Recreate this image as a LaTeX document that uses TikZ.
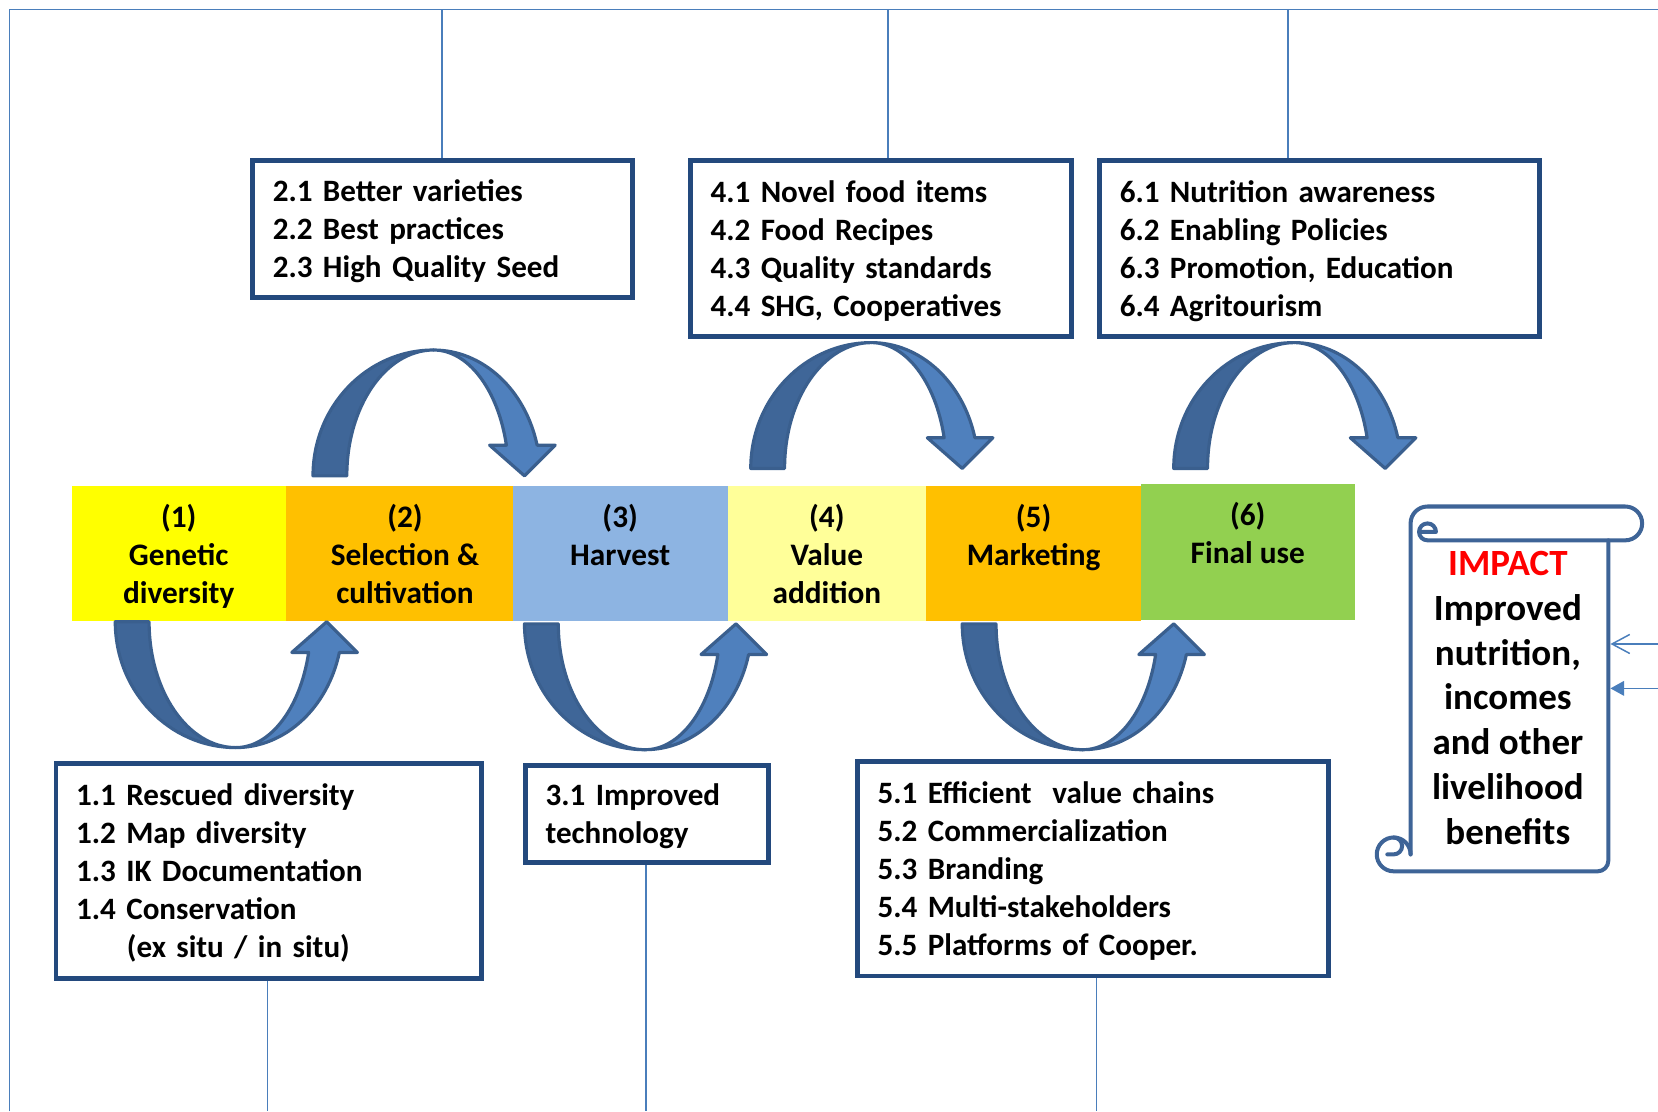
\documentclass[tikz,border=0pt]{standalone}
\usepackage{fontspec}
\setmainfont{Carlito}
\usetikzlibrary{arrows.meta}

\definecolor{linkblue}{HTML}{4A7EBB}
\definecolor{boxblue}{HTML}{23497D}
\definecolor{arrowdark}{HTML}{3F6698}
\definecolor{arrowlight}{HTML}{4F80BD}
\definecolor{arrowline}{HTML}{3A5F8E}
\definecolor{scrollblue}{HTML}{3E6497}
\definecolor{stageA}{HTML}{FFFF00}
\definecolor{stageB}{HTML}{FFC000}
\definecolor{stageC}{HTML}{8DB4E2}
\definecolor{stageD}{HTML}{FFFF99}
\definecolor{stageE}{HTML}{FFC000}
\definecolor{stageF}{HTML}{92D050}
\definecolor{impactred}{HTML}{FF0000}

% invisible rules setting the height of the first text line
\newcommand\celllead{\rule{0pt}{16.6pt}}
\newcommand\boxlead{\rule{0pt}{12.6pt}}

% curved block arrow: dark rising half, light falling half with head;
% local origin = outer corner of the tail, local y points away from the bar
\tikzset{
  loopdark/.style={fill=arrowdark, draw=arrowline, line width=1.5pt, line join=round},
  looplight/.style={fill=arrowlight, draw=arrowline, line width=1.5pt, line join=round},
  bend arrow/.pic={
    \path[loopdark] (0,0)
      arc[start angle=180, end angle=90, x radius=114, y radius=119]
      arc[start angle=90, end angle=180, x radius=82, y radius=119] -- cycle;
    \path[looplight] (114,119)
      arc[start angle=90, end angle=14.1, x radius=101, y radius=119]
      -- (229,29) -- (200,0) -- (167,29) -- (182.9,29)
      arc[start angle=14.1, end angle=90, x radius=71, y radius=119] -- cycle;
  }
}

\begin{document}
\begin{tikzpicture}[x=0.5pt, y=-0.5pt,
  frameline/.style={draw=linkblue, line width=0.7pt},
  infobox/.style={rectangle, draw=boxblue, line width=2.3pt, align=left,
    inner xsep=9.5pt, inner ysep=0pt, font=\fontsize{14.7}{18}\selectfont\bfseries},
  stagecell/.style={rectangle, inner sep=0pt, align=center, minimum height=63.5pt,
    font=\fontsize{14.8}{18}\selectfont\bfseries},
  scrolledge/.style={draw=scrollblue, line width=1.9pt, line join=round, line cap=round},
  impacttext/.style={inner sep=0pt, align=center, font=\fontsize{17.5}{21.2}\selectfont\bfseries}
]
\useasboundingbox (0,0) rectangle (1568,1051);

% ---- value chain stages ----
\node[stagecell, fill=stageA, minimum width=101pt]   (s1) at (169,523.5)   {\celllead(1)\\Genetic\\diversity\strut};
\node[stagecell, fill=stageB, minimum width=107.5pt] (s2) at (377.5,523.5)
  {\celllead\hspace*{5.5pt}(2)\\\hspace*{5.5pt}Selection \&\\\hspace*{5.5pt}cultivation\strut};
\node[stagecell, fill=stageC, minimum width=101.5pt] (s3) at (586.5,523.5) {\celllead(3)\\Harvest\\\strut};
\node[stagecell, fill=stageD, minimum width=94pt]    (s4) at (782,523.5)   {\celllead(4)\\Value\\addition\strut};
\node[stagecell, fill=stageE, minimum width=101.5pt] (s5) at (977.5,523.5) {\celllead(5)\\Marketing\\\strut};
\node[stagecell, fill=stageF, minimum width=101pt, minimum height=64pt] (s6) at (1180,522) {\celllead(6)\\Final use\\\strut};

% ---- outer frame lines ----
\coordinate (fTL) at (9,9);
\coordinate (fTR) at (1568,9);
\coordinate (fBL) at (9,1051);
\draw[frameline] (fBL) -- (fTL) -- (fTR);

% ---- activity boxes ----
\node[infobox, text width=160.5pt, minimum height=64.5pt] (b2) at (418.5,216.5)
  {\boxlead 2.1 Better varieties\\2.2 Best practices\\2.3 High Quality Seed};
\node[infobox, text width=161pt, minimum height=83pt] (b4) at (833,235)
  {\boxlead 4.1 Novel food items\\4.2 Food Recipes\\4.3 Quality standards\\4.4 SHG, Cooperatives};
\node[infobox, text width=189pt, minimum height=83pt] (b6) at (1248,235)
  {\boxlead 6.1 Nutrition awareness\\6.2 Enabling Policies\\6.3 Promotion, Education\\6.4 Agritourism};
\node[infobox, text width=182pt, minimum height=101.5pt] (b1) at (254,823.5)
  {\boxlead 1.1 Rescued diversity\\1.2 Map diversity\\1.3 IK Documentation\\1.4 Conservation\\\hspace*{24pt}(ex situ / in situ)};
\node[infobox, text width=96pt, minimum height=46pt] (b3) at (612,770)
  {\boxlead 3.1 Improved\\technology};
\node[infobox, text width=203.5pt, minimum height=101.5pt] (b5) at (1033.5,821.5)
  {\boxlead 5.1 Efficient\ \ value chains\\5.2 Commercialization\\5.3 Branding\\5.4 Multi-stakeholders\\5.5 Platforms of Cooper.};

% ---- links from the frame to the boxes ----
\coordinate (u2) at (418,9);
\coordinate (u4) at (840,9);
\coordinate (u6) at (1218,9);
\coordinate (d1) at (253,1051);
\coordinate (d3) at (611,1051);
\coordinate (d5) at (1037,1051);
\draw[frameline] (u2) -- (u2 |- b2.north);
\draw[frameline] (u4) -- (u4 |- b4.north);
\draw[frameline] (u6) -- (u6 |- b6.north);
\draw[frameline] (d1 |- b1.south) -- (d1);
\draw[frameline] (d3 |- b3.south) -- (d3);
\draw[frameline] (d5 |- b5.south) -- (d5);

% ---- curved arrows between stages ----
\pic[yscale=-1] (loopA) at (296,450) {bend arrow};
\pic[yscale=-1] (loopB) at (710,443) {bend arrow};
\pic[yscale=-1] (loopC) at (1110,443) {bend arrow};
\pic (loopD) at (109,588) {bend arrow};
\pic (loopE) at (496,590) {bend arrow};
\pic (loopF) at (910,590) {bend arrow};

% ---- impact scroll ----
\draw[scrolledge] (1334,808) -- (1334,495)
  arc[start angle=180, end angle=270, radius=16] -- (1537,479)
  arc[start angle=270, end angle=450, radius=16] -- (1350,511)
  arc[start angle=90, end angle=360, radius=8] -- (1344,503);
\draw[scrolledge] (1521,511) -- (1521,814)
  arc[start angle=0, end angle=90, radius=10] -- (1318,824)
  arc[start angle=90, end angle=360, radius=16];
\draw[scrolledge] (1318,792) arc[start angle=270, end angle=450, radius=8] -- (1312,808);
\coordinate (scrollrim) at (1523,511);

\node[impacttext] (impact) at (1426,660)
  {\textcolor{impactred}{IMPACT}\\Improved\\nutrition,\\incomes\\and other\\livelihood\\benefits};

% ---- incoming links on the right ----
\coordinate (inA) at (1568,609);
\coordinate (inB) at (1568,651);
\draw[frameline, -{Straight Barb[length=8.4pt, width=9pt]}] (inA) -- (inA -| scrollrim);
\draw[frameline, -{Triangle[length=6.5pt, width=7pt]}] (inB) -- (inB -| scrollrim);

\end{tikzpicture}
\end{document}
